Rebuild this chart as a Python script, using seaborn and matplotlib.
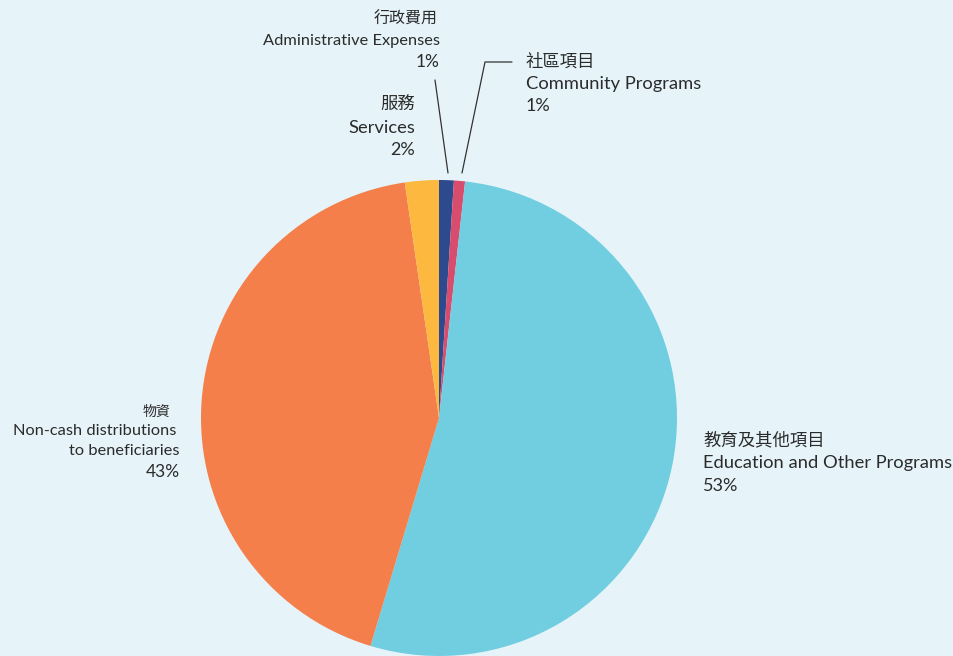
import matplotlib
matplotlib.use("Agg")
import matplotlib.pyplot as plt
import seaborn as sns

# slice values (percent), clockwise from 12 o'clock
categories = ["行政費用", "社區項目", "教育及其他項目", "物資", "服務"]
values = [1.0, 0.75, 52.9, 43.05, 2.3]
colors = ["#2e4a8e", "#d84d6e", "#70cee0", "#f47f4a", "#fdb840"]
pct_labels = ["1%", "1%", "53%", "43%", "2%"]

sns.set_theme(style="white")
plt.rcParams["font.family"] = ["Lato", "Noto Sans CJK TC", "DejaVu Sans"]

bg = "#e6f4f9"
W, H = 954, 656
fig = plt.figure(figsize=(W / 100, H / 100), dpi=100, facecolor=bg)
ax = fig.add_axes([0, 0, 1, 1])
ax.set_facecolor(bg)

# pie in pixel-like data coords (y measured from the bottom)
ax.pie(values, colors=sns.color_palette(colors), startangle=90, counterclock=False,
       center=(439, H - 418), radius=238, wedgeprops=dict(linewidth=0))
ax.set_xlim(0, W)
ax.set_ylim(0, H)
ax.set_aspect("equal")
ax.axis("off")

txt = "#2b2b2b"


def line(x, y, s, size, ha):
    ax.text(x, H - y, s, fontsize=size, ha=ha, va="center", color=txt)


# 行政費用
line(438, 19, categories[0], 11.5, "right")
line(440, 41, "Administrative Expenses", 11.8, "right")
line(440, 62, pct_labels[0], 12.5, "right")
ax.plot([435, 448], [H - 80, H - 173], color="#333333", lw=0.9)

# 社區項目
line(526, 62, categories[1], 12.5, "left")
line(526, 84, "Community Programs", 13.2, "left")
line(526, 106, pct_labels[1], 13, "left")
ax.plot([512, 485, 462], [H - 62, H - 62, H - 173], color="#333333", lw=0.9)

# 服務
line(415, 104, categories[4], 12.5, "right")
line(415, 128, "Services", 13.2, "right")
line(415, 150, pct_labels[4], 13, "right")

# 物資
line(170, 411, categories[3], 10, "right")
line(176, 431, "Non-cash distributions", 11.8, "right")
line(180, 451, "to beneficiaries", 11.8, "right")
line(180, 472, pct_labels[3], 12.5, "right")

# 教育及其他項目
line(703, 440, categories[2], 12.5, "left")
line(703, 463, "Education and Other Programs", 13.2, "left")
line(703, 486, pct_labels[2], 13, "left")

fig.savefig("out.png", dpi=100, facecolor=bg)
